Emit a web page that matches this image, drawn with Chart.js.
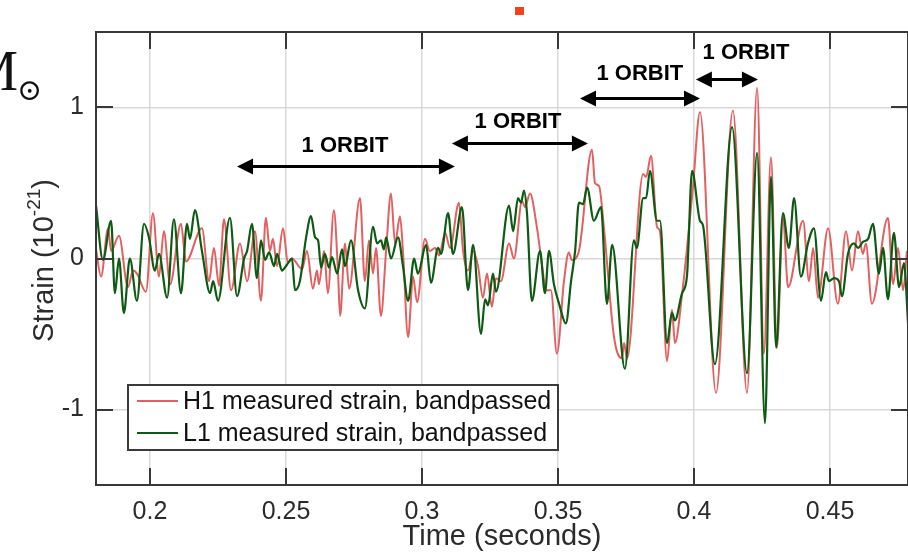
<!DOCTYPE html>
<html>
<head>
<meta charset="utf-8">
<script src="https://cdn.jsdelivr.net/npm/chart.js@4"></script>
<style>
  body { margin: 0; background: #fff; }
  #wrap { width: 908px; height: 554px; position: relative; }
</style>
</head>
<body>
<div id="wrap"><canvas id="strainChart"></canvas></div>
<script>
// H1 (Hanford) strain: time (s) and strain (1e-21)
const h1Time = [0.1801, 0.1820, 0.1846, 0.1857, 0.1886, 0.1919, 0.1938, 0.1952, 0.1985, 0.2011, 0.2033, 0.2051, 0.2074, 0.2114, 0.2132,
    0.2191, 0.2217, 0.2235, 0.2254, 0.2272, 0.2298, 0.2331, 0.2357, 0.2386, 0.2408, 0.2426, 0.2441, 0.2452, 0.2467, 0.2489,
    0.2507, 0.2522, 0.2559, 0.2577, 0.2599, 0.2614, 0.2621, 0.2640, 0.2654, 0.2676, 0.2691, 0.2699, 0.2717, 0.2732, 0.2772,
    0.2790, 0.2805, 0.2820, 0.2831, 0.2849, 0.2868, 0.2886, 0.2901, 0.2919, 0.2930, 0.2949, 0.2967, 0.2982, 0.3011, 0.3029,
    0.3048, 0.3063, 0.3085, 0.3103, 0.3136, 0.3151, 0.3169, 0.3188, 0.3206, 0.3224, 0.3239, 0.3257, 0.3272, 0.3290, 0.3320,
    0.3338, 0.3368, 0.3379, 0.3397, 0.3423, 0.3441, 0.3456, 0.3474, 0.3496, 0.3522, 0.3540, 0.3551, 0.3577, 0.3625, 0.3636,
    0.3651, 0.3669, 0.3706, 0.3735, 0.3743, 0.3754, 0.3813, 0.3824, 0.3842, 0.3864, 0.3875, 0.3901, 0.3919, 0.3930, 0.3956,
    0.3996, 0.4022, 0.4081, 0.4143, 0.4195, 0.4232, 0.4257, 0.4283, 0.4305, 0.4327, 0.4346, 0.4401, 0.4423, 0.4438, 0.4456,
    0.4493, 0.4529, 0.4559, 0.4581, 0.4603, 0.4621, 0.4632, 0.4654, 0.4713, 0.4732, 0.4750, 0.4769, 0.4783];
const h1Strain = [0.07, -0.12, 0.20, 0.05, 0.15, -0.19, -0.08, -0.10, -0.22, 0.30, -0.12, 0.18, -0.17, 0.23, -0.02,
    0.20, -0.15, 0.07, -0.18, 0.26, -0.21, 0.10, -0.15, 0.18, -0.28, 0.27, 0.05, 0.13, -0.05, 0.20,
    -0.03, 0.00, -0.07, 0.05, -0.20, -0.08, -0.17, 0.05, -0.23, 0.32, -0.08, -0.38, 0.10, -0.20, 0.40,
    -0.15, 0.12, -0.10, 0.07, -0.38, 0.05, 0.43, 0.10, 0.28, 0.05, -0.52, -0.12, -0.29, 0.13, 0.05,
    0.07, 0.02, 0.17, 0.07, 0.37, 0.05, -0.08, 0.05, -0.05, -0.26, -0.10, -0.32, -0.13, -0.15, 0.10,
    0.00, 0.38, 0.34, 0.43, 0.20, -0.04, -0.21, -0.21, -0.63, -0.15, 0.04, -0.01, 0.05, 0.72, 0.50,
    0.48, 0.20, -0.52, -0.66, -0.56, -0.66, 0.56, 0.54, 0.68, 0.21, 0.18, -0.68, -0.34, -0.56, -0.24,
    0.47, 0.97, -0.89, 0.98, -0.89, 1.13, -0.63, 0.67, -0.59, 0.28, -0.19, 0.25, -0.15, 0.07, -0.26,
    0.20, -0.30, 0.18, -0.08, 0.18, 0.03, 0.10, -0.30, 0.27, -0.17, 0.07, -0.21, 0.05];

// L1 (Livingston) strain
const l1Time = [0.1801, 0.1827, 0.1857, 0.1871, 0.1886, 0.1904, 0.1926, 0.1952, 0.1978, 0.1996, 0.2018, 0.2033, 0.2063, 0.2088, 0.2114,
    0.2136, 0.2147, 0.2165, 0.2191, 0.2221, 0.2232, 0.2250, 0.2294, 0.2320, 0.2346, 0.2357, 0.2375, 0.2393, 0.2408, 0.2423,
    0.2438, 0.2456, 0.2467, 0.2485, 0.2504, 0.2522, 0.2533, 0.2551, 0.2574, 0.2592, 0.2607, 0.2618, 0.2629, 0.2643, 0.2658,
    0.2669, 0.2688, 0.2706, 0.2717, 0.2739, 0.2765, 0.2790, 0.2820, 0.2835, 0.2849, 0.2860, 0.2868, 0.2886, 0.2912, 0.2930,
    0.2949, 0.2971, 0.2985, 0.3015, 0.3033, 0.3059, 0.3070, 0.3096, 0.3114, 0.3147, 0.3169, 0.3188, 0.3217, 0.3232, 0.3243,
    0.3261, 0.3272, 0.3320, 0.3335, 0.3353, 0.3364, 0.3375, 0.3386, 0.3404, 0.3434, 0.3452, 0.3467, 0.3485, 0.3504, 0.3529,
    0.3548, 0.3563, 0.3577, 0.3592, 0.3607, 0.3632, 0.3658, 0.3680, 0.3699, 0.3746, 0.3779, 0.3790, 0.3813, 0.3824, 0.3838,
    0.3864, 0.3875, 0.3901, 0.3919, 0.3930, 0.3956, 0.3974, 0.3993, 0.4022, 0.4033, 0.4077, 0.4140, 0.4195, 0.4232, 0.4261,
    0.4283, 0.4302, 0.4327, 0.4349, 0.4368, 0.4393, 0.4419, 0.4441, 0.4467, 0.4485, 0.4496, 0.4515, 0.4533, 0.4544, 0.4566,
    0.4588, 0.4603, 0.4621, 0.4640, 0.4658, 0.4680, 0.4695, 0.4713, 0.4735, 0.4754, 0.4772, 0.4787];
const l1Strain = [0.36, -0.01, 0.25, -0.23, 0.00, -0.36, 0.00, -0.28, 0.23, 0.14, -0.08, 0.03, -0.26, 0.26, -0.23,
    0.23, 0.13, 0.32, 0.05, -0.23, -0.15, -0.28, 0.27, -0.25, 0.00, 0.05, 0.23, -0.13, 0.12, -0.01,
    0.04, -0.05, 0.03, -0.08, -0.04, 0.00, -0.21, -0.15, 0.14, 0.28, 0.14, 0.12, -0.06, 0.03, -0.06,
    0.01, -0.10, 0.06, -0.05, 0.12, -0.21, -0.33, 0.21, 0.10, 0.12, 0.06, 0.14, 0.00, 0.14, -0.05,
    -0.28, 0.00, -0.10, 0.09, -0.16, 0.07, 0.03, 0.30, 0.03, 0.34, -0.21, 0.09, -0.50, -0.27, -0.31,
    -0.10, -0.22, 0.35, 0.18, 0.40, 0.37, 0.45, 0.30, -0.28, 0.05, -0.23, 0.05, -0.17, -0.30, -0.43,
    -0.15, 0.05, 0.37, 0.36, 0.47, 0.25, 0.34, -0.30, 0.09, -0.73, 0.12, 0.07, 0.40, 0.40, 0.58,
    0.25, 0.25, -0.56, -0.36, -0.41, -0.23, -0.12, 0.58, 0.25, 0.22, -0.70, 0.87, -0.76, 0.70, -1.09,
    0.54, -0.59, 0.30, 0.07, 0.40, -0.12, 0.10, 0.20, -0.28, -0.09, -0.15, -0.13, -0.15, -0.25, 0.03,
    0.10, 0.07, 0.11, 0.13, 0.23, -0.10, 0.07, -0.27, 0.17, -0.19, -0.03, -0.43];

const seriesLabels = ["H1 measured strain, bandpassed", "L1 measured strain, bandpassed"];
const xTicks = [0.2, 0.25, 0.3, 0.35, 0.4, 0.45];
const xTickLabels = ["0.2", "0.25", "0.3", "0.35", "0.4", "0.45"];
const yTicks = [-1, 0, 1];
const yTickLabels = ["-1", "0", "1"];

// "1 ORBIT" arrows: start time, end time, arrow strain level, label time, label strain level
const orbitStart = [0.2320, 0.3110, 0.3581, 0.4007];
const orbitEnd = [0.3121, 0.3610, 0.4022, 0.4235];
const orbitY = [0.609, 0.762, 1.060, 1.185];
const orbitLabelX = [0.2717, 0.3353, 0.3801, 0.4191];
const orbitLabelY = [0.748, 0.907, 1.219, 1.364];

const RED = "#e2605f";
const GREEN = "#0d5a12";
const FONT = "'Liberation Sans', Arial, Helvetica, sans-serif";
const TEXT = "#2b2b2b";

// box, inward ticks, y title, legend, orbit arrows
const decorations = {
    id: "decorations",
    afterDatasetsDraw(chart) {
        const {ctx, chartArea: a, scales: {x, y}} = chart;
        ctx.save();

        // frame
        ctx.strokeStyle = "#383838";
        ctx.lineWidth = 2;
        ctx.strokeRect(a.left, a.top, a.right - a.left, a.bottom - a.top);

        // inward ticks
        const tl = 17;
        ctx.beginPath();
        xTicks.forEach(v => {
            const px = Math.round(x.getPixelForValue(v));
            ctx.moveTo(px, a.bottom); ctx.lineTo(px, a.bottom - tl);
            ctx.moveTo(px, a.top); ctx.lineTo(px, a.top + tl);
        });
        yTicks.forEach(v => {
            const py = Math.round(y.getPixelForValue(v));
            ctx.moveTo(a.left, py); ctx.lineTo(a.left + tl, py);
            ctx.moveTo(a.right, py); ctx.lineTo(a.right - tl, py);
        });
        ctx.stroke();

        // y title with superscript
        ctx.save();
        ctx.translate(45, (a.top + a.bottom) / 2 + 2);
        ctx.rotate(-Math.PI / 2);
        ctx.fillStyle = TEXT;
        ctx.textBaseline = "middle";
        ctx.textAlign = "left";
        const big = "29px " + FONT, small = "19px " + FONT;
        ctx.font = big;
        const w1 = ctx.measureText("Strain (10").width;
        const w3 = ctx.measureText(")").width;
        ctx.font = small;
        const w2 = ctx.measureText("-21").width;
        let sx = -(w1 + w2 + w3) / 2;
        ctx.font = big;
        ctx.fillText("Strain (10", sx, 0);
        ctx.font = small;
        ctx.fillText("-21", sx + w1, -10);
        ctx.font = big;
        ctx.fillText(")", sx + w1 + w2, 0);
        ctx.restore();

        // legend
        const lx = a.left + 32, ly = a.top + 353, lw = 430, lh = 65;
        ctx.fillStyle = "#fff";
        ctx.fillRect(lx, ly, lw, lh);
        ctx.strokeStyle = "#3a3a3a";
        ctx.lineWidth = 2;
        ctx.strokeRect(lx, ly, lw, lh);
        ctx.font = "25px " + FONT;
        ctx.textBaseline = "middle";
        chart.data.datasets.forEach((ds, i) => {
            const ry = ly + 16 + i * 32;
            ctx.strokeStyle = ds.borderColor;
            ctx.lineWidth = ds.borderWidth;
            ctx.beginPath();
            ctx.moveTo(lx + 9, ry); ctx.lineTo(lx + 50, ry);
            ctx.stroke();
            ctx.fillStyle = "#111";
            ctx.fillText(ds.label, lx + 55, ry + 1);
        });

        // orbit arrows
        ctx.strokeStyle = "#000";
        ctx.fillStyle = "#000";
        ctx.lineWidth = 3;
        orbitStart.forEach((s, i) => {
            const x0 = x.getPixelForValue(s), x1 = x.getPixelForValue(orbitEnd[i]);
            const py = y.getPixelForValue(orbitY[i]);
            const hl = 16, hw = 8;
            ctx.beginPath();
            ctx.moveTo(x0 + hl - 2, py); ctx.lineTo(x1 - hl + 2, py);
            ctx.stroke();
            ctx.beginPath();
            ctx.moveTo(x0, py); ctx.lineTo(x0 + hl, py - hw); ctx.lineTo(x0 + hl, py + hw); ctx.closePath();
            ctx.moveTo(x1, py); ctx.lineTo(x1 - hl, py - hw); ctx.lineTo(x1 - hl, py + hw); ctx.closePath();
            ctx.fill();
            ctx.font = "bold 22px " + FONT;
            ctx.textAlign = "center";
            ctx.fillText("1 ORBIT", x.getPixelForValue(orbitLabelX[i]), y.getPixelForValue(orbitLabelY[i]));
            ctx.textAlign = "left";
        });

        // leftovers of the source figure at its edges
        ctx.fillStyle = "#111";
        ctx.textBaseline = "alphabetic";
        ctx.textAlign = "right";
        ctx.font = "56px 'Liberation Serif', 'DejaVu Serif', serif";
        ctx.fillText("M", 18, 90);
        ctx.textAlign = "left";
        ctx.font = "30px 'DejaVu Serif', serif";
        ctx.fillText("\u2299", 17, 100);
        ctx.fillStyle = "#f2421c";
        ctx.fillRect(515, 7, 9, 8);

        ctx.restore();
    }
};

const ctx = document.getElementById("strainChart").getContext("2d");

new Chart(ctx, {
    type: "line",
    data: {
        datasets: [
            {
                label: seriesLabels[0],
                data: h1Time.map((t, i) => ({x: t, y: h1Strain[i]})),
                borderColor: RED,
                borderWidth: 2,
                order: 1
            },
            {
                label: seriesLabels[1],
                data: l1Time.map((t, i) => ({x: t, y: l1Strain[i]})),
                borderColor: GREEN,
                borderWidth: 2.2,
                order: 0
            }
        ]
    },
    options: {
        responsive: true,
        maintainAspectRatio: false,
        animation: false,
        layout: { padding: { top: 32, right: 0, left: 0, bottom: 0 } },
        elements: {
            point: { radius: 0 },
            line: { cubicInterpolationMode: "monotone", fill: false }
        },
        plugins: {
            legend: { display: false },
            tooltip: { enabled: false }
        },
        scales: {
            x: {
                type: "linear",
                min: 0.18015,
                max: 0.47868,
                afterBuildTicks: s => { s.ticks = xTicks.map(v => ({value: v})); },
                afterFit: s => { s.height = 69; },
                grid: { color: "#d8d8d8", lineWidth: 1.5, drawTicks: false },
                border: { display: false },
                ticks: {
                    padding: 12,
                    color: TEXT,
                    font: { family: FONT, size: 25 },
                    maxRotation: 0,
                    callback: (v, i) => xTickLabels[i]
                },
                title: {
                    display: true,
                    text: "Time (seconds)",
                    color: TEXT,
                    font: { family: FONT, size: 29 },
                    padding: { top: 0, bottom: 0 }
                }
            },
            y: {
                min: -1.5,
                max: 1.5,
                afterBuildTicks: s => { s.ticks = yTicks.map(v => ({value: v})); },
                afterFit: s => { s.width = 96; },
                grid: { color: "#d8d8d8", lineWidth: 1.5, drawTicks: false },
                border: { display: false },
                ticks: {
                    padding: 12,
                    color: TEXT,
                    font: { family: FONT, size: 25 },
                    callback: (v, i) => yTickLabels[i]
                }
            }
        }
    },
    plugins: [decorations]
});
</script>
</body>
</html>
